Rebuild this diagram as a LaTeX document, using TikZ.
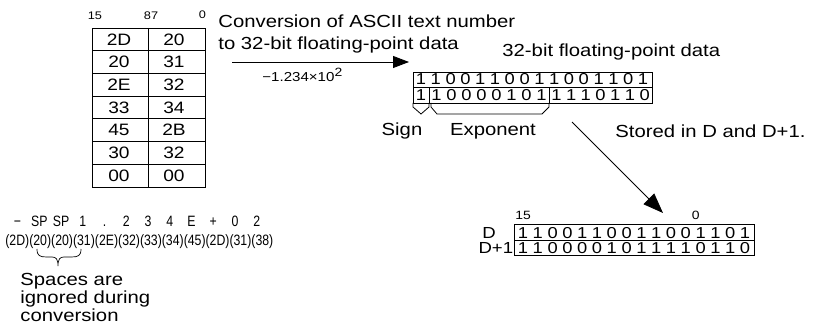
\documentclass[tikz,border=0pt]{standalone}
\usepackage{fontspec}
\setmainfont[FakeStretch=1.16]{Liberation Sans}
\newfontfamily\narrowfont[FakeStretch=0.82]{Liberation Sans}
\usetikzlibrary{arrows.meta}
\begin{document}
\begin{tikzpicture}[x=1pt,y=-1pt,line width=0.8pt,
  big/.style={font=\fontsize{17.5}{21}\selectfont,inner sep=0pt},
  mid/.style={font=\fontsize{16}{18}\selectfont,inner sep=0pt},
  cell/.style={font=\fontsize{16.5}{18}\selectfont,inner sep=0pt},
  bitd/.style={font=\fontsize{15.8}{18}\selectfont,inner sep=0pt,anchor=base},
  tinyl/.style={font=\fontsize{11}{12}\selectfont,inner sep=0pt,anchor=base},
  smalll/.style={font=\fontsize{12}{13}\selectfont,inner sep=0pt,anchor=base},
  narrow/.style={font=\narrowfont\fontsize{15}{17}\selectfont,inner sep=0pt,anchor=base},
  arr/.style={-{Triangle[length=16pt,width=12pt]}},
  arrbig/.style={-{Triangle[length=20pt,width=15pt]}}]
\useasboundingbox (0,0) rectangle (822,331);

% left table
\draw (92,28) rectangle (205,187);
\draw (148,28) -- (148,187);
\foreach \i in {1,...,6} \draw (92,{28+22.71*\i}) -- (205,{28+22.71*\i});
\foreach [count=\i] \a/\b in {2D/20,20/31,2E/32,33/34,45/2B,30/32,00/00} {
  \node[cell] (L\i) at (119,{28+22.71*(\i-0.5)}) {\a};
  \node[cell] (R\i) at (174,{28+22.71*(\i-0.5)}) {\b};
}
\node[tinyl] (h15) at (95,20) {15};
\node[tinyl] (h87) at (151,20) {87};
\node[tinyl] (h0) at (202.5,18.5) {0};

% conversion text and arrow
\node[big,anchor=base west] (conv1) at (218,28) {Conversion of ASCII text number};
\node[big,anchor=base west] (conv2) at (218,50) {to 32-bit floating-point data};
\coordinate (a1) at (232,62);
\coordinate (a2) at (409,62);
\draw[arr] (a1) -- (a2);
\node[font=\fontsize{13}{15}\selectfont,anchor=base west,inner sep=0pt] (val) at (262,82)
  {−1.234×10\raisebox{5pt}{\fontsize{12}{12}\selectfont 2}};

% 32-bit register
\node[big,anchor=base west] (fpl) at (502,57) {32-bit floating-point data};
\draw (413,72) rectangle (652,103);
\draw (413,87.5) -- (652,87.5);
\draw (429,87.5) -- (429,103);
\draw (549,87.5) -- (549,103);
\foreach [count=\i] \d in {1,1,0,0,1,1,0,0,1,1,0,0,1,1,0,1}
  \node[bitd] (t\i) at ({421+14.8*(\i-1)},85) {\d};
\node[bitd] (sg) at (421,100.5) {1};
\foreach [count=\i] \d in {1,0,0,0,0,1,0,1}
  \node[bitd] (e\i) at ({436.5+15*(\i-1)},100.5) {\d};
\foreach [count=\i] \d in {1,1,1,0,1,1,0}
  \node[bitd] (m\i) at ({556.4+14.7*(\i-1)},100.5) {\d};
\draw (413,103) -- (413,107) -- (421,114) -- (429,107) -- (429,103);
\draw (431,103) -- (431,107) -- (437,114) -- (542,114) -- (549,107) -- (549,103);
\node[big,anchor=base] (sign) at (402,136) {Sign};
\node[big,anchor=base] (expo) at (493,136) {Exponent};

% stored arrow
\node[big,anchor=base west] (stored) at (615,138) {Stored in D and D+1.};
\coordinate (s1) at (572,122);
\coordinate (s2) at (663,213);
\draw[arrbig] (s1) -- (s2);

% D registers
\node[smalll,anchor=base west] (b15) at (515,220) {15};
\node[smalll,anchor=base east] (b0) at (700,220) {0};
\draw (514,224) rectangle (754,255);
\draw (514,240) -- (754,240);
\foreach [count=\i] \d in {1,1,0,0,1,1,0,0,1,1,0,0,1,1,0,1}
  \node[bitd] (d\i) at ({523+14.8*(\i-1)},238.5) {\d};
\foreach [count=\i] \d in {1,1,0,0,0,0,1,0,1,1,1,1,0,1,1,0}
  \node[bitd] (dd\i) at ({523+14.8*(\i-1)},253.5) {\d};
\node[mid,anchor=base west] (dl) at (482,238.5) {D};
\node[mid,anchor=base east] (ddl) at (513.5,254) {D+1};

% ASCII text
\foreach [count=\i] \c in {−,SP,SP,1,.,2,3,4,E,+,0,2}
  \node[narrow] (c\i) at ({17.5+21.75*(\i-1)},227) {\c};
\node[narrow,anchor=base west] (hex) at (5,246) {(2D)(20)(20)(31)(2E)(32)(33)(34)(45)(2D)(31)(38)};
\draw[line width=0.7pt] (37,249) .. controls (37,256) and (40,257) .. (47,257) -- (52,257)
  .. controls (56,257) and (58,259) .. (58,266)
  .. controls (58,259) and (60,257) .. (64,257) -- (71,257)
  .. controls (78,257) and (81,256) .. (81,249);
\node[big,anchor=base west] (sp1) at (20,285) {Spaces are};
\node[big,anchor=base west] (sp2) at (20,303) {ignored during};
\node[big,anchor=base west] (sp3) at (20,321) {conversion};
\end{tikzpicture}
\end{document}
